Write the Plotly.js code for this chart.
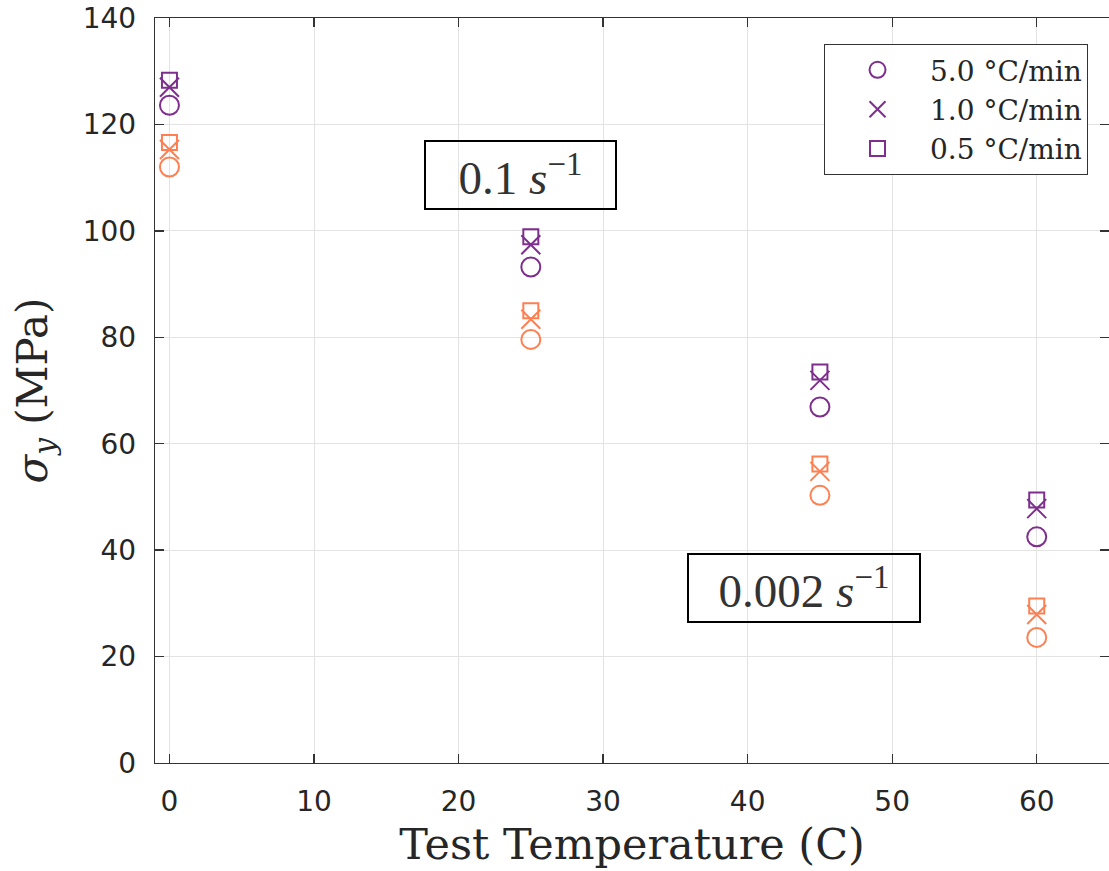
<!DOCTYPE html>
<html>
<head>
<meta charset="utf-8">
<script src="https://cdn.plot.ly/plotly-3.0.1.min.js"></script>
<style>html,body{margin:0;padding:0;background:#fff;overflow:hidden}#chart{width:1109px;height:871px}</style>
</head>
<body>
<div id="chart"></div>
<script>
// Test temperatures (C)
const temps = [0, 25, 45, 60];
// Cooling-rate labels
const rateLabels = ['5.0 °C/min', '1.0 °C/min', '0.5 °C/min'];
// Yield stress (MPa) at strain rate 0.1 s^-1 (purple)
const fast_5p0 = [123.6, 93.2, 66.9, 42.5];
const fast_1p0 = [127.0, 97.4, 71.9, 47.8];
const fast_0p5 = [128.3, 98.9, 73.5, 49.4];
// Yield stress (MPa) at strain rate 0.002 s^-1 (orange)
const slow_5p0 = [112.0, 79.6, 50.3, 23.6];
const slow_1p0 = [115.3, 83.4, 54.8, 27.9];
const slow_0p5 = [116.6, 85.0, 56.2, 29.5];
const rateBoxes = [{label: '0.1 <i>s</i><sup>−1</sup>', x: 24.27, y: 110.5},
                   {label: '0.002 <i>s</i><sup>−1</sup>', x: 43.9, y: 32.9}];

const purple = 'rgb(126,47,142)';
const orange = 'rgb(255,127,80)';
const symbols = ['circle-open', 'x-thin-open', 'square-open'];
const sizes = [19, 19, 15];
const fastSets = [fast_5p0, fast_1p0, fast_0p5];
const slowSets = [slow_5p0, slow_1p0, slow_0p5];

const traces = [];
fastSets.forEach((ys, i) => traces.push({
  x: temps, y: ys, type: 'scatter', mode: 'markers', name: rateLabels[i],
  marker: {symbol: symbols[i], size: sizes[i], color: purple, line: {color: purple, width: 2}},
  showlegend: true
}));
slowSets.forEach((ys, i) => traces.push({
  x: temps, y: ys, type: 'scatter', mode: 'markers', name: rateLabels[i] + ' (0.002)',
  marker: {symbol: symbols[i], size: sizes[i], color: orange, line: {color: orange, width: 2}},
  showlegend: false
}));

const axisCommon = {
  showline: true, linecolor: '#333', linewidth: 1.3, mirror: 'ticks',
  ticks: 'inside', ticklen: 9, tickwidth: 1.3, tickcolor: '#333',
  showgrid: true, gridcolor: '#e3e3e3', gridwidth: 1, zeroline: false,
  tickfont: {family: 'DejaVu Sans, sans-serif', size: 28, color: '#262626'}
};

const layout = {
  width: 1109, height: 871,
  margin: {l: 155, r: 0, t: 18, b: 108},
  paper_bgcolor: '#fff', plot_bgcolor: '#fff',
  showlegend: true,
  xaxis: Object.assign({}, axisCommon, {
    range: [-1, 65], tickvals: [0, 10, 20, 30, 40, 50, 60],
    ticklabelstandoff: 13,
    title: {text: 'Test Temperature (C)', standoff: 12,
            font: {family: 'DejaVu Serif, serif', size: 43, color: '#262626'}}
  }),
  yaxis: Object.assign({}, axisCommon, {
    range: [0, 140], tickvals: [0, 20, 40, 60, 80, 100, 120, 140],
    ticklabelstandoff: 12,
    title: {text: '<i>σ</i><sub><i>y</i></sub> (MPa)', standoff: 22,
            font: {family: 'DejaVu Serif, serif', size: 42, color: '#262626'}}
  }),
  legend: {
    x: 0.978, xanchor: 'right', y: 0.965, yanchor: 'top',
    bgcolor: '#fff', bordercolor: '#333', borderwidth: 1,
    font: {family: 'DejaVu Serif, serif', size: 28, color: '#262626'},
    itemwidth: 95, tracegroupgap: 0
  },
  annotations: rateBoxes.map(b => ({
    x: b.x, y: b.y, xref: 'x', yref: 'y', text: b.label, showarrow: false,
    font: {family: 'Liberation Serif, serif', size: 47, color: '#333'},
    bordercolor: '#000', borderwidth: 2, borderpad: 0,
    width: b.label.startsWith('0.1') ? 189 : 230, height: 66, align: 'center', valign: 'middle'
  }))
};

Plotly.newPlot('chart', traces, layout, {displayModeBar: false, staticPlot: true});
</script>
</body>
</html>
